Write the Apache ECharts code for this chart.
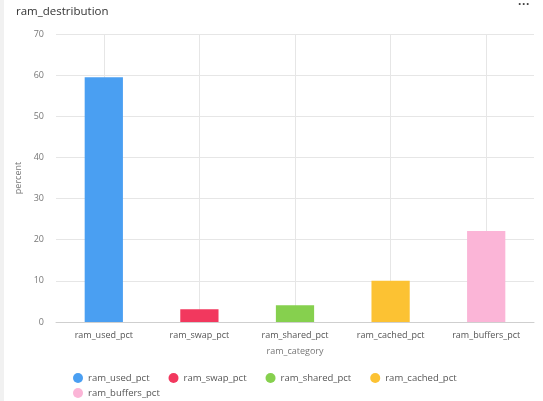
<!DOCTYPE html>
<html>
<head>
<meta charset="utf-8">
<script src="https://cdn.jsdelivr.net/npm/echarts@6/dist/echarts.min.js"></script>
<style>
html,body{margin:0;padding:0;background:#fff;}
#c{width:543px;height:401px;}
</style>
</head>
<body>
<div id="c"></div>
<script>
const categories = ['ram_used_pct', 'ram_swap_pct', 'ram_shared_pct', 'ram_cached_pct', 'ram_buffers_pct'];
const values = [59.5, 3.1, 4.1, 10, 22.1];
const colors = ['#4a9ff2', '#f2385e', '#86d04e', '#fcc233', '#fbb5d7'];
const yTicks = [0, 10, 20, 30, 40, 50, 60, 70];

const chart = echarts.init(document.getElementById('c'), null, {renderer: 'canvas'});
const series = categories.map((name, i) => ({
  name: name,
  type: 'bar',
  stack: 'all',
  barWidth: '40%',
  itemStyle: {color: colors[i]},
  data: categories.map((c, j) => j === i ? values[i] : null)
}));

const legendBase = {
  icon: 'circle', itemWidth: 10, itemHeight: 10, itemGap: 19,
  textStyle: {fontSize: 9.5, color: '#555'}
};

chart.setOption({
  animation: false,
  textStyle: {fontFamily: 'Open Sans, sans-serif'},
  title: {
    text: 'ram_destribution',
    left: 11, top: 1,
    textStyle: {fontSize: 11.5, fontWeight: 'normal', color: '#333', fontFamily: 'Open Sans, sans-serif'}
  },
  graphic: [
    {type: 'text', left: 518, top: -1, style: {text: '···', fontSize: 12, fontWeight: 'bold', fill: '#444'}},
    {type: 'rect', shape: {x: 0, y: 0, width: 4, height: 401}, style: {fill: '#f1f1f1'}}
  ],
  grid: {left: 56, right: 9, top: 34, bottom: 79, containLabel: false},
  legend: [
    Object.assign({left: 68, top: 368, data: categories.slice(0, 4)}, legendBase),
    Object.assign({left: 68, top: 383, data: categories.slice(4)}, legendBase)
  ],
  xAxis: {
    type: 'category',
    data: categories,
    name: 'ram_category',
    nameLocation: 'middle',
    nameGap: 25,
    nameTextStyle: {fontSize: 9, color: '#777'},
    axisLine: {lineStyle: {color: '#cfcfcf'}},
    axisTick: {show: false},
    axisLabel: {fontSize: 9, color: '#555', margin: 9, interval: 0},
    splitLine: {show: true, alignWithLabel: true, lineStyle: {color: '#e6e6e6'}}
  },
  yAxis: {
    type: 'value',
    min: 0, max: 70, interval: 10,
    name: 'percent',
    nameLocation: 'middle',
    nameGap: 32,
    nameTextStyle: {fontSize: 9, color: '#777'},
    axisLine: {show: false},
    axisTick: {show: false},
    axisLabel: {fontSize: 9, color: '#777', margin: 12},
    splitLine: {lineStyle: {color: '#e6e6e6'}}
  },
  series: series
});
</script>
</body>
</html>
